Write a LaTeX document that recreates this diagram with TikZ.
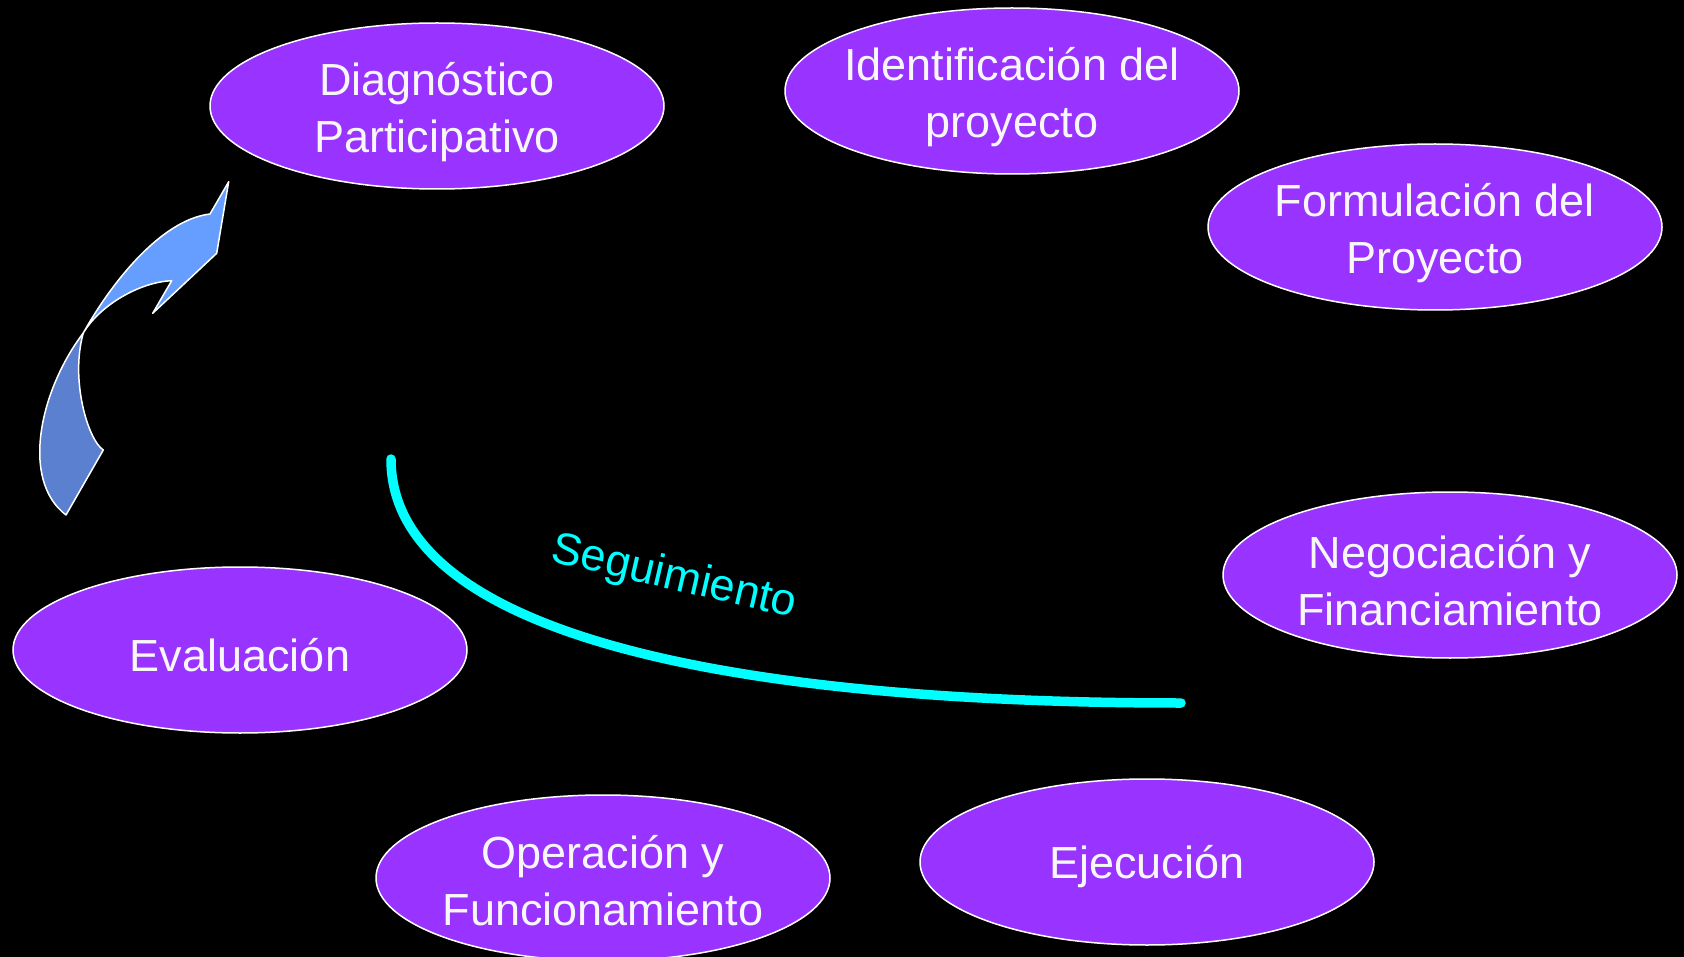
\documentclass[tikz,border=0pt]{standalone}
\usepackage{fontspec}
\setmainfont{Liberation Sans}
\usetikzlibrary{shapes.geometric}
\definecolor{purp}{HTML}{9933FF}
\definecolor{arrlight}{HTML}{669EFF}
\definecolor{arrdark}{HTML}{5A80CF}
\definecolor{cyanline}{HTML}{00FFFF}
\tikzset{
  blob/.style={ellipse, draw=white, line width=1.5pt, fill=purp, minimum width=454pt, minimum height=166pt, inner sep=0pt},
  lbl/.style={text=white!97!black, align=center, font=\fontsize{45}{57}\selectfont, inner sep=0pt},
  arrowpart/.style={draw=white, line width=1.5pt, line join=round}
}
\begin{document}
\begin{tikzpicture}[x=1pt,y=-1pt]
\fill[black] (0,0) rectangle (1684,957);
\useasboundingbox (0,0) rectangle (1684,957);
\begin{scope}
\clip (0,0) rectangle (1684,957);
\node[blob] (diag) at (437,106) {};
\node[lbl, yshift=-6pt] (diagT) at (diag) {Diagnóstico\\Participativo};
\node[blob] (iden) at (1012,91) {};
\node[lbl, yshift=-6pt] (idenT) at (iden) {Identificación del\\proyecto};
\node[blob] (form) at (1435,227) {};
\node[lbl, yshift=-6pt] (formT) at (form) {Formulación del\\Proyecto};
\node[blob] (nego) at (1450,575) {};
\node[lbl, yshift=-6pt] (negoT) at (nego) {Negociación y\\Financiamiento};
\node[blob] (ejec) at (1147,862) {};
\node[lbl, yshift=-5pt] (ejecT) at (ejec) {Ejecución};
\node[blob] (oper) at (603,878) {};
\node[lbl, yshift=-3pt] (operT) at (oper) {Operación y\\Funcionamiento};
\node[blob] (eval) at (240,650) {};
\node[lbl, yshift=-5pt] (evalT) at (eval) {Evaluación};
\end{scope}
% curved arrow
\coordinate (cross) at (83.3,333);
\coordinate (tailA) at (66,515);
\coordinate (tailB) at (103.3,450);
\coordinate (barbO) at (210,214);
\coordinate (tip) at (228.7,181.7);
\coordinate (headR) at (216.7,253.3);
\coordinate (headB) at (152.7,313.3);
\coordinate (barbI) at (171.7,280.7);
\path[arrowpart, fill=arrdark] (cross) .. controls (40,390) and (20,480) .. (tailA)
  -- (tailB) .. controls (88,440) and (70,380) .. (cross) -- cycle;
\path[arrowpart, fill=arrlight] (cross) .. controls (110,285) and (160,220) .. (barbO)
  -- (tip) -- (headR) -- (headB) -- (barbI) .. controls (140,282) and (100,305) .. (cross) -- cycle;
% Seguimiento
\coordinate (sgA) at (391,459);
\coordinate (sgB) at (1181,703);
\draw[cyanline, line width=9.5pt, line cap=round] (sgA) .. controls (391,640) and (750,703) .. (sgB);
\node[lbl, text=cyanline, rotate=-13] (seg) at (674,578) {Seguimiento};
\end{tikzpicture}
\end{document}
